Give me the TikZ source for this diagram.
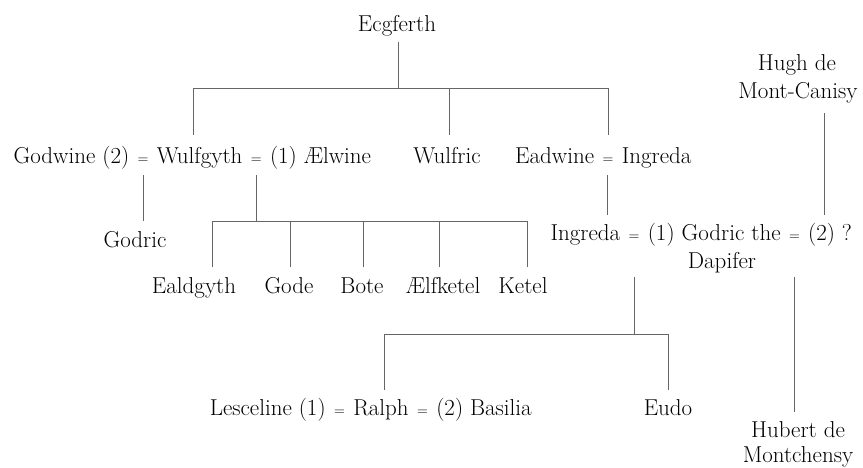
\documentclass[tikz,border=0pt]{standalone}
\usetikzlibrary{calc}
\begin{document}
\begin{tikzpicture}[x=1pt,y=-1pt,
  nm/.style={inner sep=0pt,anchor=base,font=\fontsize{23}{26}\selectfont,text=black},
  eqs/.style={inner sep=0pt,anchor=base,font=\fontsize{15}{15}\selectfont,text=black},
  ln/.style={draw=black!60,line width=1pt}]
\useasboundingbox[fill=white] (0,0) rectangle (863,467);

% generation 1
\node[nm] (ecg) at (397,31) {Ecgferth};

% generation 2
\node[eqs] (eqA) at (143,163) {=};
\node[nm,anchor=base east] (godwine) at ([xshift=-8pt]eqA.base west) {Godwine (2)};
\node[nm,anchor=base west] (wulfgyth) at ([xshift=8pt]eqA.base east) {Wulfgyth};
\node[eqs,anchor=base west] (eqB) at ([xshift=8pt]wulfgyth.base east) {=};
\node[nm,anchor=base west] (aelwine) at ([xshift=8pt]eqB.base east) {(1) Ælwine};
\node[nm] (wulfric) at (447,163) {Wulfric};
\node[eqs] (eqC) at (608,163) {=};
\node[nm,anchor=base east] (eadwine) at ([xshift=-8pt]eqC.base west) {Eadwine};
\node[nm,anchor=base west] (ingredaA) at ([xshift=8pt]eqC.base east) {Ingreda};

\node[nm] (hughA) at (797,70) {Hugh de};
\node[nm] (hughB) at (798,98) {Mont-Canisy};

% generation 3
\node[nm] (godricA) at (135,247) {Godric};
\node[nm] (ealdgyth) at (194,293) {Ealdgyth};
\node[nm] (gode) at (289,293) {Gode};
\node[nm] (bote) at (362,293) {Bote};
\node[nm] (aelfketel) at (443,293) {Ælfketel};
\node[nm] (ketel) at (523,293) {Ketel};

\node[eqs] (eqD) at (634,240) {=};
\node[nm,anchor=base east] (ingredaB) at ([xshift=-8pt]eqD.base west) {Ingreda};
\node[nm,anchor=base west] (godricB) at ([xshift=8pt]eqD.base east) {(1) Godric the};
\node[eqs,anchor=base west] (eqE) at ([xshift=8pt]godricB.base east) {=};
\node[nm,anchor=base west] (unknown) at ([xshift=8pt]eqE.base east) {(2) ?};
\node[nm] (dapifer) at (722,268) {Dapifer};

% generation 4
\node[nm] (ralph) at (381,415) {Ralph};
\node[eqs,anchor=base east] (eqF) at ([xshift=-8pt]ralph.base west) {=};
\node[nm,anchor=base east] (lesceline) at ([xshift=-8pt]eqF.base west) {Lesceline (1)};
\node[eqs,anchor=base west] (eqG) at ([xshift=8pt]ralph.base east) {=};
\node[nm,anchor=base west] (basilia) at ([xshift=8pt]eqG.base east) {(2) Basilia};
\node[nm] (eudo) at (668,415) {Eudo};

\node[nm] (hubertA) at (798,437) {Hubert de};
\node[nm] (hubertB) at (798,462) {Montchensy};

% connectors
\coordinate (barA) at (398,88);
\draw[ln] (398,42) -- (barA);
\draw[ln] (193,135) |- (eqC.center |- barA) -- (eqC.center |- 0,135);
\draw[ln] (449,88) -- (449,135);

\draw[ln] (eqA.center |- 0,175) -- (eqA.center |- 0,221);

\draw[ln] (eqB.center |- 0,175) -- (eqB.center |- 0,221);
\draw[ln] (212,267) |- (527,221) -- (527,267);
\draw[ln] (290,221) -- (290,267);
\draw[ln] (363,221) -- (363,267);
\draw[ln] (439,221) -- (439,267);

\draw[ln] (607,175) -- (607,215);
\draw[ln] (824,113) -- (824,215);

\coordinate (barC) at (634,334);
\draw[ln] (eqD.center |- 0,277) -- (barC);
\draw[ln] (384,390) |- (668,334) -- (668,390);

\draw[ln] (eqE.center |- 0,277) -- (eqE.center |- 0,412);
\end{tikzpicture}
\end{document}
